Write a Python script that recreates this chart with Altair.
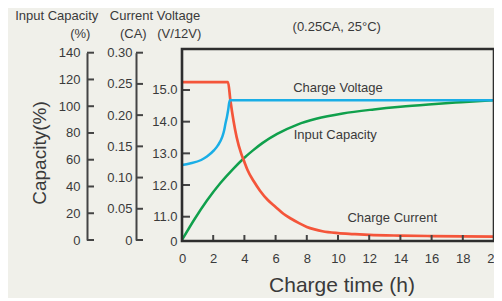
import altair as alt
import pandas as pd

# ---------------- data ----------------
volt_t = [0, 0.5, 1.23, 1.6, 2.06, 2.3, 2.58, 2.7, 2.79, 2.88, 2.96, 3.06, 20]
volt_v = [12.63, 12.68, 12.79, 12.9, 13.10, 13.25, 13.52, 13.72, 13.95, 14.15, 14.37, 14.68, 14.68]

cur_t = [0, 2.95, 3.1, 3.5, 3.8, 4.0, 4.2, 4.6, 5.0, 5.5, 6.0, 6.5, 7.0, 7.5,
         8.0, 8.5, 9.0, 10, 11, 12, 14, 16, 18, 20]
cur_i = [0.253, 0.253, 0.224, 0.165, 0.138, 0.125, 0.112, 0.094, 0.079, 0.064,
         0.053, 0.042, 0.034, 0.027, 0.021, 0.017, 0.014, 0.011, 0.0095, 0.0082,
         0.0070, 0.0063, 0.0058, 0.0055]

cap_t = [0, 0.8, 1.6, 2.45, 3.3, 4.0, 4.55, 5.15, 6.1, 7.4, 8.6, 10.3, 12.3,
         14, 15.8, 17.9, 20]
cap_v = [0, 15.5, 29.5, 42.4, 53.4, 61.5, 67.0, 72.4, 79.3, 86.3, 90.6, 94.6, 97.6,
         99.6, 101.3, 103.0, 104.6]

x_ticks = [0, 2, 4, 6, 8, 10, 12, 14, 16, 18, 20]
cap_ticks = [0, 20, 40, 60, 80, 100, 120, 140]
cur_ticks = [0, 0.05, 0.10, 0.15, 0.20, 0.25, 0.30]
volt_ticks = [11, 12, 13, 14, 15]

# ---------------- styling ----------------
FONT = "Liberation Sans"
TXT = "#3a3a3a"
AX = "#444444"
BG = "#f0f0ea"
RED = "#f4553a"
BLUE = "#1aaee6"
GREEN = "#10a04c"
W, H = 312, 192
VMIN, VMAX = 10.233, 16.294  # broken voltage axis (bottom shown as 0)

volt_df = pd.DataFrame({"t": volt_t, "v": volt_v})
cur_df = pd.DataFrame({"t": cur_t, "v": cur_i})
cap_df = pd.DataFrame({"t": cap_t, "v": cap_v})
xt_df = pd.DataFrame({"t": x_ticks})
capt_df = pd.DataFrame({"v": cap_ticks})
curt_df = pd.DataFrame({"v": cur_ticks})
voltt_df = pd.DataFrame({"v": volt_ticks})

x_scale = alt.Scale(domain=[0, 20], nice=False, zero=False)
x_axis = alt.Axis(values=x_ticks, title=None, domain=False, ticks=False, tickSize=0,
                  grid=False, labelPadding=11, labelFontSize=13, labelFont=FONT,
                  labelColor=TXT, labelFlush=False, labelOverlap=False)
x_enc = alt.X("t:Q", scale=x_scale, axis=x_axis)

lab = dict(labelFont=FONT, labelFontSize=13, labelColor=TXT, grid=False,
           ticks=False, tickSize=0, title=None, labelOverlap=False, labelFlush=False)

# capacity group
cap_scale = alt.Scale(domain=[0, 140], range=[191, 3.7], nice=False, zero=False)
cap_axis = alt.Axis(orient="left", offset=95, values=cap_ticks, labelPadding=7,
                    domainColor=AX, domainWidth=2, **lab)
cap_line = alt.Chart(cap_df).mark_line(color=GREEN, strokeWidth=2.5, interpolate="monotone").encode(
    x=x_enc, y=alt.Y("v:Q", scale=cap_scale, axis=cap_axis))
cap_tick = alt.Chart(capt_df).mark_rule(color=AX, strokeWidth=2).encode(
    x=alt.value(-95), x2=alt.value(-88), y=alt.Y("v:Q", scale=cap_scale, axis=cap_axis))
cap_layer = alt.layer(cap_line, cap_tick)

# current group
cur_scale = alt.Scale(domain=[0, 0.30], range=[191, 3.7], nice=False, zero=False)
cur_axis = alt.Axis(orient="left", offset=46, values=cur_ticks, labelPadding=4,
                    domainColor=AX, domainWidth=2,
                    labelExpr="datum.value == 0 ? '0' : format(datum.value, '.2f')", **lab)
cur_line = alt.Chart(cur_df).mark_line(color=RED, strokeWidth=2.7, interpolate="monotone").encode(
    x=x_enc, y=alt.Y("v:Q", scale=cur_scale, axis=cur_axis))
cur_tick = alt.Chart(curt_df).mark_rule(color=AX, strokeWidth=2).encode(
    x=alt.value(-46), x2=alt.value(-39), y=alt.Y("v:Q", scale=cur_scale, axis=cur_axis))
cur_layer = alt.layer(cur_line, cur_tick)

# voltage group
volt_scale = alt.Scale(domain=[VMIN, VMAX], nice=False, zero=False)
volt_axis = alt.Axis(orient="left", offset=0, values=[VMIN] + volt_ticks, labelPadding=5,
                     domain=False,
                     labelExpr="datum.value < 10.5 ? '0' : format(datum.value, '.1f')", **lab)
volt_line = alt.Chart(volt_df).mark_line(color=BLUE, strokeWidth=2.5, interpolate="monotone").encode(
    x=x_enc, y=alt.Y("v:Q", scale=volt_scale, axis=volt_axis))
volt_tick = alt.Chart(voltt_df).mark_rule(color=AX, strokeWidth=2).encode(
    x=alt.value(0), x2=alt.value(8), y=alt.Y("v:Q", scale=volt_scale, axis=volt_axis))
volt_layer = alt.layer(volt_line, volt_tick)

# x ticks (pointing inward)
x_tick = alt.Chart(xt_df).mark_rule(color=AX, strokeWidth=2).encode(
    x=alt.X("t:Q", scale=x_scale, axis=x_axis), y=alt.value(H - 6), y2=alt.value(H))

one = pd.DataFrame({"a": [0]})

# plot frame
frame = alt.Chart(one).mark_rect(fillOpacity=0, stroke="#2e2e2e", strokeWidth=2.6).encode(
    x=alt.value(0), x2=alt.value(W), y=alt.value(0), y2=alt.value(H))


def label(txt, px, py, size=13, angle=0, color=TXT):
    return alt.Chart(one).mark_text(font=FONT, fontSize=size, color=color, align="center",
                                    baseline="middle", angle=angle).encode(
        text=alt.value(txt), x=alt.value(px), y=alt.value(py))


texts = [
    label("Input Capacity", -125.3, -33),
    label("(%)", -101.7, -15),
    label("Current Voltage", -27, -33),
    label("(CA)", -48.7, -15),
    label("(V/12V)", -2.7, -15),
    label("(0.25CA, 25°C)", 154.7, -22.3),
    label("Charge Voltage", 156, 39),
    label("Input Capacity", 153.3, 86),
    label("Charge Current", 210.2, 169.3),
    label("Charge time (h)", 160, 237.2, size=21),
    label("Capacity(%)", -142, 104, size=19, angle=270),
]

chart = alt.layer(cap_layer, cur_layer, volt_layer, x_tick, frame, *texts).resolve_scale(
    y="independent"
).properties(
    width=W, height=H,
    autosize=alt.AutoSizeParams(type="none"),
    padding={"left": 174, "top": 41, "right": 0, "bottom": 57},
    background=BG,
).configure_view(strokeOpacity=0)

chart.save("out.html", embed_options={"renderer": "svg", "actions": False})
